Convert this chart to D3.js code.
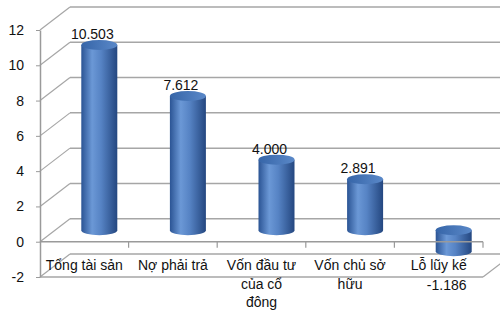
<!DOCTYPE html>
<html>
<head>
<meta charset="utf-8">
<script src="https://cdn.jsdelivr.net/npm/d3@7"></script>
<style>
  html, body { margin: 0; padding: 0; background: #fff; }
  svg { display: block; font-family: "Liberation Sans", Arial, sans-serif; }
</style>
</head>
<body>
<div id="chart"></div>
<script>
// chart data
var categories = ["Tổng tài sản", "Nợ phải trả", "Vốn đầu tư\ncủa cổ\nđông", "Vốn chủ sở\nhữu", "Lỗ lũy kế"];
var values = [10.503, 7.612, 4.000, 2.891, -1.186];
var yTicks = [-2, 0, 2, 4, 6, 8, 10, 12];

var width = 500;
var height = 312;

// depth of the 3d box (back wall offset)
var depthX = 30;
var depthY = -23;

var svg = d3.select("#chart").append("svg")
  .attr("width", width)
  .attr("height", height);

var defs = svg.append("defs");

var bodyGrad = defs.append("linearGradient").attr("id", "cylBody")
  .attr("x1", "0%").attr("x2", "100%").attr("y1", "0%").attr("y2", "0%");
bodyGrad.append("stop").attr("offset", "0%").attr("stop-color", "#2b5494");
bodyGrad.append("stop").attr("offset", "30%").attr("stop-color", "#6b98d6");
bodyGrad.append("stop").attr("offset", "55%").attr("stop-color", "#5683c4");
bodyGrad.append("stop").attr("offset", "100%").attr("stop-color", "#244780");

var topGrad = defs.append("linearGradient").attr("id", "cylTop")
  .attr("x1", "0%").attr("x2", "100%").attr("y1", "0%").attr("y2", "0%");
topGrad.append("stop").attr("offset", "0%").attr("stop-color", "#3665a8");
topGrad.append("stop").attr("offset", "100%").attr("stop-color", "#5a88c8");

// scales (front plane)
var x = d3.scaleBand().domain(categories).range([40, 483]);
var y = d3.scaleLinear().domain([-2, 12]).range([277, 30]);

var gridColor = "#a6a6a6";

// back wall gridlines + left wall diagonals
var grid = svg.append("g");
grid.selectAll("line.back")
  .data(yTicks)
  .enter().append("line")
  .attr("class", "back")
  .attr("x1", 40 + depthX).attr("x2", 483 + depthX)
  .attr("y1", function (d) { return y(d) + depthY; })
  .attr("y2", function (d) { return y(d) + depthY; })
  .attr("stroke", gridColor).attr("stroke-width", 1.5);

grid.selectAll("line.side")
  .data(yTicks)
  .enter().append("line")
  .attr("class", "side")
  .attr("x1", 40).attr("x2", 40 + depthX)
  .attr("y1", function (d) { return y(d); })
  .attr("y2", function (d) { return y(d) + depthY; })
  .attr("stroke", gridColor).attr("stroke-width", 1.2);

// floor front edge and right edge
grid.append("line")
  .attr("x1", 40).attr("x2", 483)
  .attr("y1", y(-2)).attr("y2", y(-2))
  .attr("stroke", gridColor).attr("stroke-width", 1.5);
grid.append("line")
  .attr("x1", 483).attr("x2", 483 + depthX)
  .attr("y1", y(-2)).attr("y2", y(-2) + depthY)
  .attr("stroke", gridColor).attr("stroke-width", 1.2);

// cylinders
var rx = 18;
var ry = 5;
var bars = svg.append("g");

values.forEach(function (v, i) {
  var cx = x(categories[i]) + x.bandwidth() / 2 + depthX / 2;
  var yTop = y(Math.max(v, 0)) + depthY / 2;
  var yBot = y(Math.min(v, 0)) + depthY / 2;

  // body: sides + rounded bottom
  bars.append("path")
    .attr("d", "M" + (cx - rx) + "," + yTop +
      "L" + (cx - rx) + "," + yBot +
      "A" + rx + "," + ry + " 0 0 0 " + (cx + rx) + "," + yBot +
      "L" + (cx + rx) + "," + yTop + "Z")
    .attr("fill", "url(#cylBody)");

  // top cap
  bars.append("ellipse")
    .attr("cx", cx).attr("cy", yTop)
    .attr("rx", rx).attr("ry", ry)
    .attr("fill", "url(#cylTop)");
});

// category axis line at zero (front plane), drawn over bars
var axisColor = "#9a9a9a";
svg.append("line")
  .attr("x1", 40).attr("x2", 483)
  .attr("y1", y(0)).attr("y2", y(0))
  .attr("stroke", axisColor).attr("stroke-width", 1.5);

svg.selectAll("line.cattick")
  .data(categories)
  .enter().append("line")
  .attr("class", "cattick")
  .attr("x1", function (d) { return x(d) + x.bandwidth(); })
  .attr("x2", function (d) { return x(d) + x.bandwidth(); })
  .attr("y1", y(0)).attr("y2", y(0) + 6)
  .attr("stroke", axisColor).attr("stroke-width", 1.2);

// value axis
var yAxis = svg.append("g")
  .attr("transform", "translate(40,0)")
  .call(d3.axisLeft(y).tickValues(yTicks).tickSize(4).tickSizeOuter(0).tickPadding(12)
    .tickFormat(d3.format("d")));
yAxis.select(".domain").attr("stroke", axisColor).attr("stroke-width", 1.5);
yAxis.selectAll(".tick line").attr("stroke", axisColor);
yAxis.selectAll(".tick text")
  .attr("font-family", "Liberation Sans, Arial, sans-serif")
  .attr("font-size", 14)
  .attr("fill", "#111")
  .text(function (d) { return d < 0 ? "-" + Math.abs(d) : d; });

// category labels
var catLabels = svg.append("g");
categories.forEach(function (c) {
  var t = catLabels.append("text")
    .attr("text-anchor", "middle")
    .attr("font-size", 14)
    .attr("fill", "#111");
  c.split("\n").forEach(function (line, k) {
    t.append("tspan")
      .attr("x", x(c) + x.bandwidth() / 2)
      .attr("y", 270 + k * 18.5)
      .text(line);
  });
});

// data labels
var fmt = d3.formatLocale({ decimal: ".", thousands: ",", grouping: [3], currency: ["", ""], minus: "-" }).format(".3f");
svg.append("g").selectAll("text")
  .data(values)
  .enter().append("text")
  .attr("x", function (d, i) { return x(categories[i]) + x.bandwidth() / 2 + 8; })
  .attr("y", function (d) { return y(d) - (d >= 0 ? 22.5 : -22.5); })
  .attr("dy", "0.35em")
  .attr("text-anchor", "middle")
  .attr("font-size", 14)
  .attr("fill", "#111")
  .text(function (d) { return fmt(d); });
</script>
</body>
</html>
